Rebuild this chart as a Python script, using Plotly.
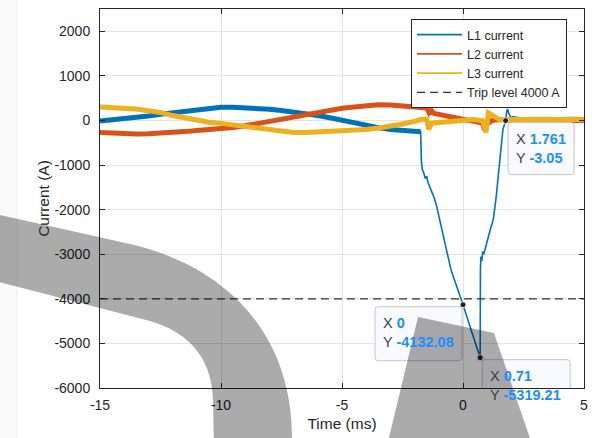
import numpy as np
import plotly.graph_objects as go

# ---------------- data ----------------
t_l1 = [-15, -14.5, -14, -13.5, -13, -12.5, -12, -11.5, -11, -10.5, -10, -9.5, -9, -8.5, -8,
        -7.5, -7, -6.5, -6, -5.5, -5, -4.5, -4, -3.5, -3, -2.5, -2, -1.75,
        -1.72, -1.68, -1.62, -1.56, -1.5, -1.45, -1.33, -1.25, -1.2, -1.1, -1.0, -0.9, -0.8,
        -0.7, -0.6, -0.5, -0.4, -0.3, -0.2, -0.1, 0, 0.35, 0.71,
        0.72, 0.74, 0.78, 0.81, 0.86, 0.94, 1.07, 1.15, 1.22, 1.27, 1.36, 1.48, 1.56, 1.65,
        1.761, 1.81, 1.85, 1.9, 2.0, 2.5, 3.0, 3.5, 4.0, 4.5, 5.0]
i_l1 = [-10, 15, 40, 60, 100, 140, 170, 210, 250, 280, 295, 295, 285, 270, 250,
        225, 195, 160, 110, 60, 0, -60, -120, -160, -200, -230, -245, -255,
        -900, -1100, -1180, -1300, -1250, -1380, -1550, -1640, -1720, -1900, -2150, -2400, -2650,
        -2900, -3150, -3340, -3500, -3650, -3800, -3960, -4132.08, -4720, -5319.21,
        -3340, -3050, -3150, -2940, -3000, -2830, -2510, -2400, -2290, -2150, -1770, -1170, -800, -200,
        -3.05, 220, 250, 140, 50, 10, 20, 10, 20, 30, 20]

t_l2 = [-15, -14.5, -14, -13.5, -13, -12.5, -12, -11.5, -11, -10.5, -10, -9.5, -9, -8.5, -8,
        -7.5, -7, -6.5, -6, -5.5, -5, -4.5, -4, -3.5, -3, -2.5, -2, -1.75, -1.5, -1.4, -1.3,
        -1.2, -1.0, -0.6, -0.2, 0.2, 0.5, 0.8, 0.9, 1.0, 1.2, 1.5, 2.0, 2.5, 3.0, 3.5, 4.0, 4.5, 5.0]
i_l2 = [-270, -290, -300, -305, -300, -290, -270, -250, -225, -210, -195, -160, -120, -70, -20,
        40, 100, 150, 200, 240, 275, 300, 335, 350, 345, 330, 310, 305, 280, 170, 220,
        160, 140, 90, 40, 0, -20, -60, -220, -80, 0, 20, 0, 10, 0, 10, 0, 10, 0]

t_l3 = [-15, -14.5, -14, -13.5, -13, -12.5, -12, -11.5, -11, -10.5, -10, -9.5, -9, -8.5, -8,
        -7.5, -7, -6.5, -6, -5.5, -5, -4.5, -4, -3.5, -3, -2.5, -2, -1.75, -1.5, -1.42, -1.3,
        -1.0, -0.5, 0, 0.4, 0.8, 0.95, 1.05, 1.2, 1.4, 1.5, 2.0, 2.5, 3.0, 3.5, 4.0, 4.5, 5.0]
i_l3 = [300, 290, 275, 255, 220, 180, 110, 60, 0, -40, -65, -100, -140, -190, -225,
        -255, -270, -268, -258, -248, -235, -220, -200, -170, -130, -80, -20, 20, 30, -200, -60,
        -50, -20, 10, 20, 0, -270, 170, 120, 30, 20, 20, 30, 20, 30, 20, 30, 20]

trip_level = -4000

tip_t = [1.761, 0, 0.71]
tip_i = [-3.05, -4132.08, -5319.21]

x_ticks = [-15, -10, -5, 0, 5]
y_ticks = [-6000, -5000, -4000, -3000, -2000, -1000, 0, 1000, 2000]

C1, C2, C3 = "#0072BD", "#D95319", "#EDB120"
AX = "#262626"
FONT = "Liberation Sans, Arial, sans-serif"
TIPBLUE = "#1a8fff"

# ---------------- figure ----------------
W, H = 608, 438
L, R, T, B = 100, 584, 9, 388

fig = go.Figure()

ta1 = np.array(t_l1)
ia1 = np.array(i_l1, dtype=float)
steady = (ta1 <= -1.75) | (ta1 >= 2.0)
i_thick = [v if s else None for v, s in zip(ia1, steady)]

fig.add_trace(go.Scatter(x=t_l1, y=i_thick, mode="lines", line=dict(color=C1, width=5),
                         connectgaps=False, showlegend=False, hoverinfo="skip"))
fig.add_trace(go.Scatter(x=t_l1, y=i_l1, mode="lines", name="L1 current",
                         line=dict(color=C1, width=1.6)))
fig.add_trace(go.Scatter(x=t_l2, y=i_l2, mode="lines", line=dict(color=C2, width=5),
                         showlegend=False, hoverinfo="skip"))
fig.add_trace(go.Scatter(x=t_l2, y=i_l2, mode="lines", name="L2 current",
                         line=dict(color=C2, width=1.6)))
fig.add_trace(go.Scatter(x=t_l3, y=i_l3, mode="lines", line=dict(color=C3, width=5),
                         showlegend=False, hoverinfo="skip"))
fig.add_trace(go.Scatter(x=t_l3, y=i_l3, mode="lines", name="L3 current",
                         line=dict(color=C3, width=1.6)))
fig.add_trace(go.Scatter(x=[x_ticks[0], x_ticks[-1]], y=[trip_level, trip_level], mode="lines",
                         name="Trip level 4000 A",
                         line=dict(color="#333333", width=1.3, dash="8px,5px")))
fig.add_trace(go.Scatter(x=tip_t, y=tip_i, mode="markers", showlegend=False,
                         marker=dict(size=6, color="#222222", line=dict(color="#f0f0d0", width=1))))


def px(x):
    return (x - L) / (R - L)


def py(y):
    return (B - y) / (B - T)


def P(x, y):
    return f"{px(x):.5f},{py(y):.5f}"


shapes = []

# faint page edge on the left
shapes.append(dict(type="rect", xref="paper", yref="paper", x0=px(0), x1=px(17), y0=py(H + 5), y1=py(-5),
                   fillcolor="rgba(0,0,0,0.018)", line=dict(width=0), layer="below"))
shapes.append(dict(type="line", xref="paper", yref="paper", x0=px(17), x1=px(17), y0=py(H + 5), y1=py(-5),
                   line=dict(color="rgba(0,0,0,0.05)", width=1), layer="below"))

# datatip boxes (pixel offsets relative to the data points)
tip_boxes = [(2.5, 68.5), (-88, -1), (2, 90)]
tip_h = [52, 54, 54]


def rounded(x0, x1, y0, y1, r=3):
    # y pixel coordinates are measured upward
    return (f"M{x0 + r},{y1} L{x1 - r},{y1} Q{x1},{y1} {x1},{y1 - r} L{x1},{y0 + r} "
            f"Q{x1},{y0} {x1 - r},{y0} L{x0 + r},{y0} Q{x0},{y0} {x0},{y0 + r} "
            f"L{x0},{y1 - r} Q{x0},{y1} {x0 + r},{y1} Z")


for (bx0, bx1), hh, tx, ty in zip(tip_boxes, tip_h, tip_t, tip_i):
    shapes.append(dict(type="path", xref="x", yref="y", xsizemode="pixel", ysizemode="pixel",
                       xanchor=tx, yanchor=ty, path=rounded(bx0, bx1, -2 - hh, -2),
                       fillcolor="rgba(249,250,255,1)", line=dict(color="#c6c6c6", width=1),
                       layer="above"))

# grey overlay shapes present in the picture
band = ("M " + P(-5, 214) + " L " + P(130, 244) + " C " + P(222, 265) + " " + P(292, 330) + " " +
        P(292, 438) + " L " + P(292, 450) + " L " + P(214, 450) + " L " + P(213, 400) +
        " C " + P(212, 355) + " " + P(185, 331) + " " + P(150, 321) + " L " + P(-5, 281) + " Z")
shapes.append(dict(type="path", xref="paper", yref="paper", path=band,
                   fillcolor="rgba(0,0,0,0.33)", line=dict(width=0), layer="above"))
trap = "M " + P(418, 317) + " L " + P(494, 333) + " L " + P(534, 450) + " L " + P(386, 450) + " Z"
shapes.append(dict(type="path", xref="paper", yref="paper", path=trap,
                   fillcolor="rgba(0,0,0,0.33)", line=dict(width=0), layer="above"))

annotations = []
for (bx0, bx1), tx, ty in zip(tip_boxes, tip_t, tip_i):
    txt = (f"X <span style='color:{TIPBLUE}'><b>{tx:g}</b></span><br>"
           f"Y <span style='color:{TIPBLUE}'><b>{ty:g}</b></span>")
    annotations.append(dict(x=tx, y=ty, xref="x", yref="y", text=txt, showarrow=False,
                            xanchor="left", yanchor="top", align="left",
                            xshift=bx0 + 6, yshift=-8,
                            font=dict(family=FONT, size=14.5, color="#404040")))

fig.update_layout(
    width=W, height=H,
    margin=dict(l=L, r=W - R, t=T, b=H - B, pad=0, autoexpand=False),
    paper_bgcolor="white", plot_bgcolor="white",
    font=dict(family=FONT, color=AX),
    showlegend=True,
    legend=dict(x=px(411), y=py(19), xanchor="left", yanchor="top",
                bgcolor="white", bordercolor=AX, borderwidth=1,
                font=dict(family=FONT, size=12.5, color=AX),
                itemwidth=45, tracegroupgap=0),
    shapes=shapes,
    annotations=annotations,
)
fig.update_xaxes(range=[x_ticks[0], x_ticks[-1]], tickvals=x_ticks,
                 ticktext=[str(v) for v in x_ticks], ticks="inside", ticklen=5,
                 tickcolor=AX, linecolor=AX, linewidth=1, mirror="ticks", showgrid=True,
                 gridcolor="#e3e3e3", zeroline=False, tickfont=dict(family=FONT, size=14, color=AX),
                 ticklabelstandoff=4, automargin=False,
                 title=dict(text="Time (ms)", font=dict(family=FONT, size=15.5, color=AX), standoff=6))
fig.update_yaxes(range=[-6000, 2500], tickvals=y_ticks,
                 ticktext=[str(v) for v in y_ticks], ticks="inside", ticklen=5,
                 tickcolor=AX, linecolor=AX, linewidth=1, mirror="ticks", showgrid=True,
                 gridcolor="#e3e3e3", zeroline=False, tickfont=dict(family=FONT, size=14, color=AX),
                 ticklabelstandoff=6, automargin=False,
                 title=dict(text="Current (A)", font=dict(family=FONT, size=15.5, color=AX), standoff=0))

fig.write_html("out.html")
